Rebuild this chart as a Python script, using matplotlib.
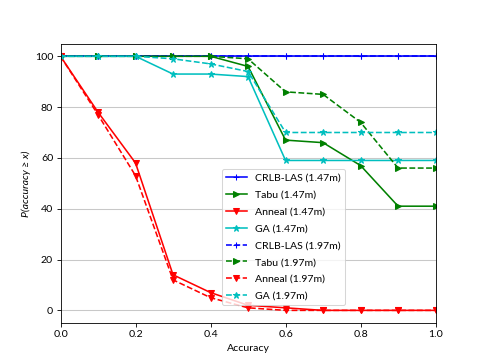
import numpy as np
import matplotlib
matplotlib.use("Agg")
import matplotlib.pyplot as plt

plt.rcParams['font.family'] = ['Lato', 'DejaVu Sans']
plt.rcParams['font.size'] = 10

x = [0.0, 0.1, 0.2, 0.3, 0.4, 0.5, 0.6, 0.7, 0.8, 0.9, 1.0]

crlb_147 = [100, 100, 100, 100, 100, 100, 100, 100, 100, 100, 100]
tabu_147 = [100, 100, 100, 100, 100, 96, 67, 66, 57, 41, 41]
anneal_147 = [100, 78, 58, 14, 7, 2, 1, 0, 0, 0, 0]
ga_147 = [100, 100, 100, 93, 93, 92, 59, 59, 59, 59, 59]

crlb_197 = [100, 100, 100, 100, 100, 100, 100, 100, 100, 100, 100]
tabu_197 = [100, 100, 100, 100, 100, 99, 86, 85, 74, 56, 56]
anneal_197 = [100, 77, 53, 12, 5, 1, 0, 0, 0, 0, 0]
ga_197 = [100, 100, 100, 99, 97, 94, 70, 70, 70, 70, 70]

fig, ax = plt.subplots(figsize=(6.4, 4.8), dpi=75.625)

ax.yaxis.grid(True, color='#c8c8c8', linewidth=1)
ax.set_axisbelow(True)

ms = 6
ax.plot(x, crlb_147, 'b-', marker='+', markersize=ms, label='CRLB-LAS (1.47m)')
ax.plot(x, tabu_147, 'g-', marker='>', markersize=ms, label='Tabu (1.47m)')
ax.plot(x, anneal_147, 'r-', marker='v', markersize=ms, label='Anneal (1.47m)')
ax.plot(x, ga_147, 'c-', marker='*', markersize=ms, label='GA (1.47m)')
ax.plot(x, crlb_197, 'b--', marker='+', markersize=ms, label='CRLB-LAS (1.97m)')
ax.plot(x, tabu_197, 'g--', marker='>', markersize=ms, label='Tabu (1.97m)')
ax.plot(x, anneal_197, 'r--', marker='v', markersize=ms, label='Anneal (1.97m)')
ax.plot(x, ga_197, 'c--', marker='*', markersize=ms, label='GA (1.97m)')

ax.set_xlim(0, 1)
ax.set_ylim(-5, 105)
ax.set_xticks([0.0, 0.2, 0.4, 0.6, 0.8, 1.0])
ax.set_yticks([0, 20, 40, 60, 80, 100])
ax.set_xlabel('Accuracy')
ax.set_ylabel('P(accuracy \u2265 x)', style='italic')

ax.legend(loc='lower left', bbox_to_anchor=(0.43, 0.064), borderaxespad=0,
          labelspacing=0.72)

fig.savefig('out.png')
